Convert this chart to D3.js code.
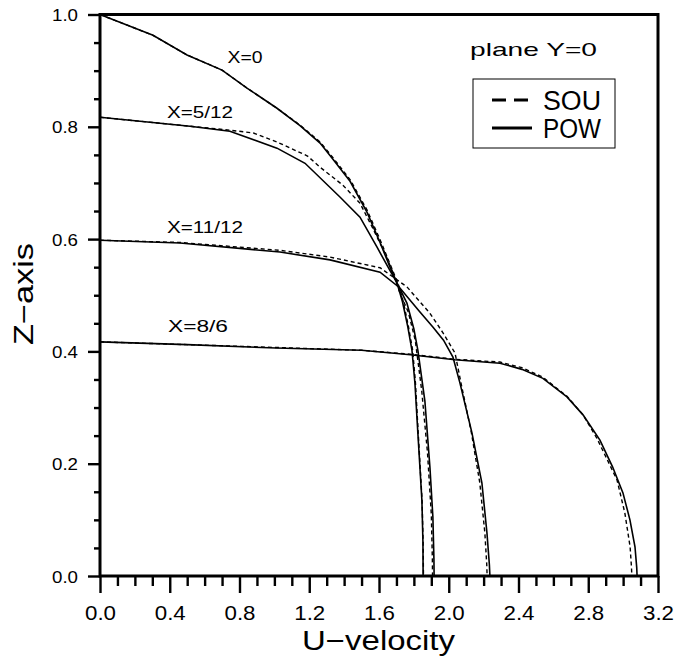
<!DOCTYPE html>
<html>
<head>
<meta charset="utf-8">
<script src="https://cdn.jsdelivr.net/npm/d3@7"></script>
<style>
body{margin:0;background:#fff;}
svg{display:block;}
text{font-family:"Liberation Sans",Arial,sans-serif;fill:#000;}
</style>
</head>
<body>
<svg id="chart" width="675" height="663"></svg>
<script>
// ---- data (u = U-velocity, z = Z-axis) ----
const curveLabels = ["X=0", "X=5/12", "X=11/12", "X=8/6"];
const seriesNames = ["SOU", "POW"];
const xMajorTicks = [0.0, 0.4, 0.8, 1.2, 1.6, 2.0, 2.4, 2.8, 3.2];
const yMajorTicks = [0.0, 0.2, 0.4, 0.6, 0.8, 1.0];

const pow_x0 = [[0,1.0],[0.304,0.963],[0.499,0.928],[0.70,0.901],[0.843,0.869],[1.015,0.833],[1.147,0.802],[1.262,0.771],[1.336,0.742],[1.434,0.703],[1.531,0.648],[1.606,0.594],[1.663,0.550],[1.703,0.522],[1.735,0.488],[1.765,0.444],[1.789,0.402],[1.806,0.344],[1.823,0.254],[1.846,0.135],[1.852,0.06],[1.853,0]];
const sou_x0 = [[0,1.0],[0.304,0.963],[0.499,0.928],[0.70,0.901],[0.843,0.869],[1.015,0.833],[1.147,0.803],[1.262,0.773],[1.336,0.745],[1.434,0.706],[1.531,0.652],[1.606,0.599],[1.668,0.552],[1.708,0.522],[1.740,0.488],[1.769,0.444],[1.793,0.402],[1.809,0.344],[1.825,0.254],[1.847,0.135],[1.853,0.06],[1.855,0]];

const pow_x512 = [[0,0.817],[0.516,0.801],[0.745,0.792],[1.015,0.762],[1.176,0.735],[1.376,0.675],[1.491,0.639],[1.588,0.586],[1.652,0.550],[1.703,0.522],[1.760,0.486],[1.800,0.440],[1.823,0.402],[1.863,0.312],[1.892,0.194],[1.909,0.105],[1.915,0.03],[1.916,0]];
const sou_x512 = [[0,0.817],[0.516,0.801],[0.745,0.794],[0.88,0.789],[1.015,0.773],[1.19,0.748],[1.262,0.728],[1.393,0.696],[1.491,0.664],[1.560,0.622],[1.634,0.575],[1.674,0.545],[1.720,0.504],[1.768,0.470],[1.808,0.420],[1.845,0.330],[1.878,0.220],[1.900,0.11],[1.906,0.03],[1.907,0]];

const pow_x1112 = [[0,0.598],[0.459,0.593],[1.032,0.577],[1.319,0.563],[1.606,0.541],[1.72,0.513],[1.83,0.472],[1.91,0.443],[1.97,0.420],[2.024,0.390],[2.064,0.344],[2.133,0.255],[2.19,0.166],[2.219,0.077],[2.233,0.02],[2.236,0]];
const sou_x1112 = [[0,0.598],[0.459,0.594],[1.032,0.580],[1.319,0.568],[1.606,0.549],[1.760,0.515],[1.892,0.468],[1.967,0.433],[2.036,0.397],[2.07,0.344],[2.13,0.255],[2.178,0.166],[2.207,0.077],[2.218,0.02],[2.22,0]];

const pow_x86 = [[0,0.417],[0.5,0.412],[1.01,0.406],[1.5,0.402],[1.78,0.394],[2.035,0.385],[2.294,0.379],[2.42,0.368],[2.54,0.352],[2.678,0.319],[2.77,0.287],[2.867,0.242],[2.94,0.194],[2.999,0.148],[3.039,0.100],[3.068,0.052],[3.078,0.015],[3.08,0]];
const sou_x86 = [[0,0.417],[0.5,0.412],[1.01,0.407],[1.5,0.402],[1.78,0.395],[2.035,0.386],[2.294,0.381],[2.42,0.371],[2.54,0.354],[2.678,0.320],[2.77,0.287],[2.85,0.245],[2.92,0.200],[2.965,0.171],[3.01,0.112],[3.04,0.052],[3.048,0.015],[3.05,0]];

const powSeries = [pow_x0, pow_x512, pow_x1112, pow_x86];
const souSeries = [sou_x0, sou_x512, sou_x1112, sou_x86];

// ---- layout ----
const svg = d3.select("#chart");
const L = 100, R = 658, T = 14.5, B = 576;
const x = d3.scaleLinear().domain([0, 3.2]).range([L, R]);
const y = d3.scaleLinear().domain([0, 1.0]).range([B, T]);

const line = d3.line().x(d => x(d[0])).y(d => y(d[1]));

// curves
souSeries.forEach(s => {
  svg.append("path").attr("d", line(s)).attr("fill", "none")
    .attr("stroke", "#000").attr("stroke-width", 1.4).attr("stroke-dasharray", "4,3");
});
powSeries.forEach(s => {
  svg.append("path").attr("d", line(s)).attr("fill", "none")
    .attr("stroke", "#000").attr("stroke-width", 1.6);
});

// axes: minor ticks
const xMinor = d3.range(0, 33).map(i => i / 10).filter(v => !xMajorTicks.some(m => Math.abs(m - v) < 1e-9));
const yMinor = d3.range(0, 21).map(i => i / 20).filter(v => !yMajorTicks.some(m => Math.abs(m - v) < 1e-9));

const gxMinor = svg.append("g").attr("transform", `translate(0,${B})`)
  .call(d3.axisBottom(x).tickValues(xMinor).tickSize(10).tickFormat(""));
const gxMajor = svg.append("g").attr("transform", `translate(0,${B})`)
  .call(d3.axisBottom(x).tickValues(xMajorTicks).tickSize(17).tickFormat(d3.format(".1f")));
const gyMinor = svg.append("g").attr("transform", `translate(${L},0)`)
  .call(d3.axisLeft(y).tickValues(yMinor).tickSize(6).tickFormat(""));
const gyMajor = svg.append("g").attr("transform", `translate(${L},0)`)
  .call(d3.axisLeft(y).tickValues(yMajorTicks).tickSize(12).tickPadding(10).tickFormat(d3.format(".1f")));

[gxMinor, gxMajor, gyMinor, gyMajor].forEach(g => {
  g.select(".domain").remove();
  g.selectAll("line").attr("stroke", "#000").attr("stroke-width", 2.4);
});
gxMajor.selectAll("text").attr("y", 44).attr("dy", 0)
  .style("font-size", "20px").attr("textLength", 31).attr("lengthAdjust", "spacingAndGlyphs");
gyMajor.selectAll("text").attr("dy", "0.36em")
  .style("font-size", "17px").attr("textLength", 26).attr("lengthAdjust", "spacingAndGlyphs");

// frame
svg.append("rect").attr("x", L).attr("y", T).attr("width", R - L).attr("height", B - T)
  .attr("fill", "none").attr("stroke", "#000").attr("stroke-width", 3);

// axis titles
svg.append("text").attr("x", (302 + 455) / 2).attr("y", 650).attr("text-anchor", "middle")
  .style("font-size", "27px").attr("textLength", 153).attr("lengthAdjust", "spacingAndGlyphs")
  .text("U\u2212velocity");
svg.append("text").attr("transform", "translate(33,294) rotate(-90)").attr("text-anchor", "middle")
  .style("font-size", "27px").attr("textLength", 102).attr("lengthAdjust", "spacingAndGlyphs")
  .text("Z\u2212axis");

// curve labels
const labelPos = [[245, 63, 35], [200, 118, 66], [205, 233, 76], [198, 332, 60]];
curveLabels.forEach((t, i) => {
  svg.append("text").attr("x", labelPos[i][0]).attr("y", labelPos[i][1]).attr("text-anchor", "middle")
    .style("font-size", "16px").attr("textLength", labelPos[i][2]).attr("lengthAdjust", "spacingAndGlyphs")
    .text(t);
});

// plane label
svg.append("text").attr("x", 470).attr("y", 56)
  .style("font-size", "19px").attr("textLength", 127).attr("lengthAdjust", "spacingAndGlyphs")
  .text("plane Y=0");

// legend
svg.append("rect").attr("x", 473).attr("y", 79).attr("width", 142).attr("height", 69)
  .attr("fill", "none").attr("stroke", "#000").attr("stroke-width", 1);
const legY = [100, 128];
svg.append("line").attr("x1", 492).attr("x2", 528).attr("y1", legY[0]).attr("y2", legY[0])
  .attr("stroke", "#000").attr("stroke-width", 3).attr("stroke-dasharray", "14,8");
svg.append("line").attr("x1", 492).attr("x2", 532).attr("y1", legY[1]).attr("y2", legY[1])
  .attr("stroke", "#000").attr("stroke-width", 3);
seriesNames.forEach((n, i) => {
  svg.append("text").attr("x", 543).attr("y", legY[i] + 10)
    .style("font-size", "27px").attr("textLength", 58).attr("lengthAdjust", "spacingAndGlyphs")
    .text(n);
});
</script>
</body>
</html>
